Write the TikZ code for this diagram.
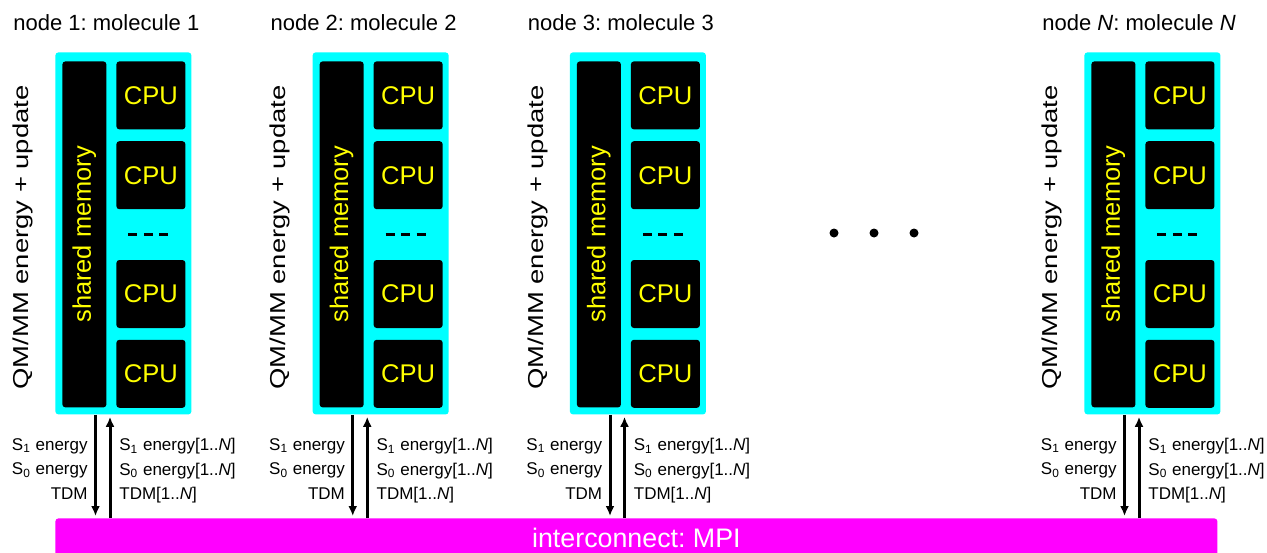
\documentclass[tikz,border=0pt]{standalone}
\usepackage{fontspec}
\setmainfont{Liberation Sans}
\usepackage{xcolor}
\usetikzlibrary{arrows.meta,positioning,calc}
\frenchspacing
\definecolor{nodecyan}{RGB}{0,255,255}
\definecolor{busmagenta}{RGB}{255,0,255}
\definecolor{cpuyellow}{RGB}{255,255,0}
\tikzset{
  hostbox/.style={fill=nodecyan, rounded corners=1.5pt, inner sep=0pt,
    minimum width=68pt, minimum height=181pt, anchor=north west},
  membox/.style={fill=black, rounded corners=1.5pt, inner sep=0pt, text=cpuyellow,
    font=\fontsize{12.7}{14}\selectfont, minimum width=22pt, minimum height=173pt},
  cpubox/.style={fill=black, rounded corners=1.5pt, inner sep=0pt, text=cpuyellow,
    font=\fontsize{12.8}{14}\selectfont, minimum width=34.5pt, minimum height=34pt},
  busbox/.style={fill=busmagenta, rounded corners=1.5pt, inner sep=0pt, text=white,
    font=\fontsize{13.4}{15}\selectfont, minimum width=581pt, minimum height=20pt},
  titletext/.style={font=\fontsize{11}{13}\selectfont, inner sep=0pt, anchor=base west},
  sidetext/.style={font=\fontsize{10.8}{12}\selectfont, inner sep=0pt, rotate=90, xscale=1.27},
  msgtext/.style={font=\fontsize{8.5}{12.25}\selectfont, inner sep=0pt},
  arrow/.style={-{Latex[length=5pt,width=4.5pt]}, line width=1.5pt, shorten >=1pt},
  gapdashes/.style={line width=1.5pt, dash pattern=on 4.5pt off 3.25pt},
  dotmark/.style={circle, fill=black, inner sep=0pt, minimum size=4.5pt}
}

\begin{document}
\begin{tikzpicture}[x=0.5pt, y=-0.5pt, node distance=5.5pt]
  \useasboundingbox (0,0) rectangle (1267,552);
  \clip (0,0) rectangle (1267,552);
  \node[busbox, anchor=north west] (bus) at (55,518) {interconnect: MPI};

  \foreach \c/\n in {0/1, 1/2, 2/3, 4/\textit{N}} {
    \node[hostbox] (host\c) at (55+257.25*\c, 52) {};
    \node[membox, anchor=north west, xshift=3.5pt, yshift=-4.5pt] (mem\c) at (host\c.north west) {\rotatebox{90}{shared memory}};
    \node[cpubox, anchor=north west, xshift=30.5pt, yshift=-4.5pt] (cpua\c) at (host\c.north west) {CPU};
    \node[cpubox, below=of cpua\c] (cpub\c) {CPU};
    \node[cpubox, below=25pt of cpub\c] (cpuc\c) {CPU};
    \node[cpubox, below=of cpuc\c] (cpud\c) {CPU};
    \draw[gapdashes] ($(cpub\c.south)!0.5!(cpuc\c.north)$) ++(-11.25pt,0) -- ++(20pt,0);

    \node[titletext] (title\c) at (13+257.25*\c, 30) {node \n: molecule \n};
    \node[sidetext] (side\c) at (23+257.25*\c, 237.5) {QM/MM energy + update};

    \draw[arrow] ([xshift=20.25pt]host\c.south west) -- ([xshift=20.25pt]host\c.south west |- bus.north);
    \draw[arrow] ([xshift=27.5pt]host\c.south west |- bus.north) -- ([xshift=27.5pt]host\c.south west);

    \node[msgtext, align=right, anchor=north east] (sent\c) at ([xshift=16.5pt, yshift=-11.5pt]host\c.south west)
      {S\textsubscript{1} energy\\S\textsubscript{0} energy\\TDM};
    \node[msgtext, align=left, anchor=north west] (recv\c) at ([xshift=32pt, yshift=-11.5pt]host\c.south west)
      {S\textsubscript{1} energy[1..\textit{N}]\\S\textsubscript{0} energy[1..\textit{N}]\\TDM[1..\textit{N}]};
  }

  \node[dotmark] (dotA) at (834,233) {};
  \node[dotmark] (dotB) at (874,233) {};
  \node[dotmark] (dotC) at (914,233) {};
\end{tikzpicture}
\end{document}
